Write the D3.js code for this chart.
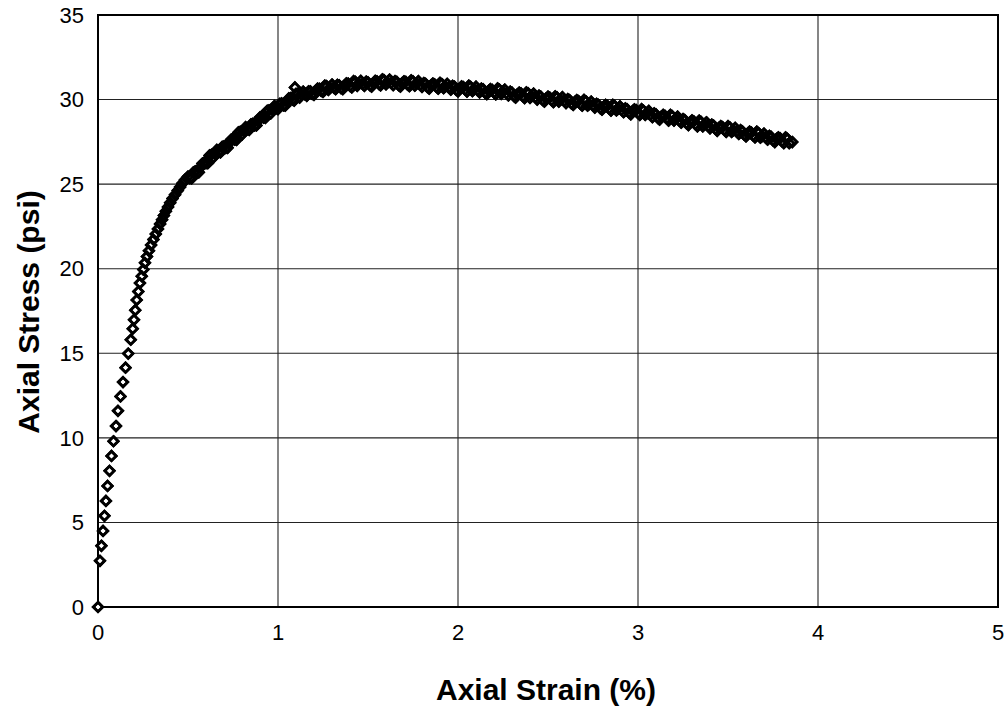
<!DOCTYPE html>
<html>
<head>
<meta charset="utf-8">
<script src="https://cdn.jsdelivr.net/npm/d3@7"></script>
<style>
  body { margin: 0; background: #fff; }
  svg { display: block; }
  .tick-label { font-family: "Liberation Sans", Arial, sans-serif; font-size: 22px; fill: #000; }
  .axis-title { font-family: "Liberation Sans", Arial, sans-serif; font-size: 30px; font-weight: bold; fill: #000; }
</style>
</head>
<body>
<svg width="1008" height="707"></svg>
<script>
// axial strain (%) readings, sparse start then the dense part of the test
const strain = [
  0, 0.011, 0.019, 0.028, 0.036, 0.044, 0.053, 0.064, 0.075, 0.086, 0.100, 0.111, 0.125, 0.139, 0.153,
  0.168, 0.182, 0.193, 0.200, 0.207, 0.215, 0.224, 0.233, 0.243, 0.252, 0.261, 0.272, 0.283, 0.295,
  0.308, 0.321, 0.333, 0.345, 0.356, 0.366, 0.377, 0.389, 0.401, 0.414, 0.428, 0.443, 0.456, 0.469, 0.483,
  0.50, 0.52, 0.54, 0.56, 0.58, 0.60, 0.62, 0.64, 0.66, 0.68, 0.70, 0.72, 0.74, 0.76, 0.78, 0.80,
  0.82, 0.84, 0.86, 0.88, 0.90, 0.92, 0.94, 0.96, 0.98, 1.00, 1.02, 1.04, 1.06, 1.08, 1.094, 1.10,
  1.12, 1.14, 1.16, 1.18, 1.20, 1.22, 1.24, 1.26, 1.28, 1.30, 1.32, 1.34, 1.36, 1.38, 1.40,
  1.42, 1.44, 1.46, 1.48, 1.50, 1.52, 1.54, 1.56, 1.58, 1.60, 1.62, 1.64, 1.66, 1.68, 1.70,
  1.72, 1.74, 1.76, 1.78, 1.80, 1.82, 1.84, 1.86, 1.88, 1.90, 1.92, 1.94, 1.96, 1.98, 2.00,
  2.02, 2.04, 2.06, 2.08, 2.10, 2.12, 2.14, 2.16, 2.18, 2.20, 2.22, 2.24, 2.26, 2.28, 2.30,
  2.32, 2.34, 2.36, 2.38, 2.40, 2.42, 2.44, 2.46, 2.48, 2.50, 2.52, 2.54, 2.56, 2.58, 2.60,
  2.62, 2.64, 2.66, 2.68, 2.70, 2.72, 2.74, 2.76, 2.78, 2.80, 2.82, 2.84, 2.86, 2.88, 2.90,
  2.92, 2.94, 2.96, 2.98, 3.00, 3.02, 3.04, 3.06, 3.08, 3.10, 3.12, 3.14, 3.16, 3.18, 3.20,
  3.22, 3.24, 3.26, 3.28, 3.30, 3.32, 3.34, 3.36, 3.38, 3.40, 3.42, 3.44, 3.46, 3.48, 3.50,
  3.52, 3.54, 3.56, 3.58, 3.60, 3.62, 3.64, 3.66, 3.68, 3.70, 3.72, 3.74, 3.76, 3.78, 3.80,
  3.82, 3.84, 3.857
];

// axial stress (psi), same order as strain
const stress = [
  0, 2.73, 3.62, 4.50, 5.39, 6.27, 7.16, 8.05, 8.93, 9.80, 10.70, 11.60, 12.45, 13.30, 14.15,
  14.98, 15.80, 16.45, 16.98, 17.55, 18.15, 18.65, 19.15, 19.56, 19.95, 20.35, 20.72, 21.06, 21.40,
  21.72, 22.05, 22.35, 22.65, 22.90, 23.15, 23.40, 23.65, 23.90, 24.15, 24.38, 24.62, 24.83, 25.05, 25.25,
  25.45, 25.34, 25.75, 25.70, 26.22, 26.24, 26.70, 26.57, 27.02, 26.87, 27.24, 27.15, 27.64, 27.63, 28.06, 27.93,
  28.37, 28.21, 28.57, 28.47, 28.95, 28.93, 29.34, 29.19, 29.62, 29.44, 29.78, 29.64, 30.07, 29.99, 30.72, 30.34,
  30.12, 30.47, 30.22, 30.48, 30.28, 30.65, 30.52, 30.83, 30.57, 30.89, 30.61, 30.84, 30.61, 30.96, 30.81,
  31.09, 30.81, 31.11, 30.81, 31.02, 30.77, 31.10, 30.93, 31.20, 30.90, 31.18, 30.85, 31.04, 30.77, 31.08,
  30.89, 31.14, 30.82, 31.09, 30.75, 30.93, 30.65, 30.95, 30.75, 30.99, 30.67, 30.93, 30.58, 30.76, 30.48,
  30.78, 30.58, 30.82, 30.50, 30.76, 30.42, 30.60, 30.32, 30.62, 30.42, 30.66, 30.34, 30.59, 30.24, 30.41,
  30.12, 30.41, 30.20, 30.43, 30.10, 30.35, 30.00, 30.17, 29.88, 30.17, 29.96, 30.19, 29.88, 30.14, 29.79,
  29.97, 29.68, 29.97, 29.75, 29.98, 29.64, 29.88, 29.53, 29.69, 29.40, 29.68, 29.47, 29.69, 29.36, 29.60,
  29.25, 29.42, 29.13, 29.42, 29.21, 29.43, 29.09, 29.33, 28.96, 29.12, 28.82, 29.10, 28.88, 29.10, 28.76,
  28.99, 28.63, 28.79, 28.49, 28.77, 28.54, 28.76, 28.42, 28.66, 28.30, 28.46, 28.15, 28.43, 28.21, 28.43,
  28.09, 28.33, 27.97, 28.12, 27.82, 28.10, 27.88, 28.10, 27.75, 27.99, 27.63, 27.79, 27.49, 27.77, 27.54,
  27.76, 27.42, 27.49
];

// readings logged between the ones above in the dense part
const strainMid = [
  0.51, 0.53, 0.55, 0.57, 0.59, 0.61, 0.63, 0.65, 0.67, 0.69, 0.71, 0.73, 0.75, 0.77, 0.79,
  0.81, 0.83, 0.85, 0.87, 0.89, 0.91, 0.93, 0.95, 0.97, 0.99, 1.01, 1.03, 1.05, 1.07, 1.09,
  1.11, 1.13, 1.15, 1.17, 1.19, 1.21, 1.23, 1.25, 1.27, 1.29, 1.31, 1.33, 1.35, 1.37, 1.39,
  1.41, 1.43, 1.45, 1.47, 1.49, 1.51, 1.53, 1.55, 1.57, 1.59, 1.61, 1.63, 1.65, 1.67, 1.69,
  1.71, 1.73, 1.75, 1.77, 1.79, 1.81, 1.83, 1.85, 1.87, 1.89, 1.91, 1.93, 1.95, 1.97, 1.99,
  2.01, 2.03, 2.05, 2.07, 2.09, 2.11, 2.13, 2.15, 2.17, 2.19, 2.21, 2.23, 2.25, 2.27, 2.29,
  2.31, 2.33, 2.35, 2.37, 2.39, 2.41, 2.43, 2.45, 2.47, 2.49, 2.51, 2.53, 2.55, 2.57, 2.59,
  2.61, 2.63, 2.65, 2.67, 2.69, 2.71, 2.73, 2.75, 2.77, 2.79, 2.81, 2.83, 2.85, 2.87, 2.89,
  2.91, 2.93, 2.95, 2.97, 2.99, 3.01, 3.03, 3.05, 3.07, 3.09, 3.11, 3.13, 3.15, 3.17, 3.19,
  3.21, 3.23, 3.25, 3.27, 3.29, 3.31, 3.33, 3.35, 3.37, 3.39, 3.41, 3.43, 3.45, 3.47, 3.49,
  3.51, 3.53, 3.55, 3.57, 3.59, 3.61, 3.63, 3.65, 3.67, 3.69, 3.71, 3.73, 3.75, 3.77, 3.79,
  3.81, 3.83
];

const stressMid = [
  25.36, 25.69, 25.68, 26.00, 26.28, 26.24, 26.73, 26.79, 26.91, 27.20, 27.15, 27.44, 27.69, 27.62, 28.09,
  28.14, 28.25, 28.53, 28.47, 28.75, 28.99, 28.91, 29.36, 29.40, 29.49, 29.75, 29.66, 29.90, 30.08, 29.94,
  30.32, 30.29, 30.31, 30.49, 30.33, 30.51, 30.64, 30.45, 30.79, 30.72, 30.71, 30.87, 30.68, 30.83, 30.94,
  30.72, 31.04, 30.95, 30.92, 31.06, 30.85, 30.98, 31.07, 30.84, 31.14, 31.03, 30.98, 31.09, 30.86, 30.97,
  31.04, 30.79, 31.07, 30.95, 30.88, 30.98, 30.74, 30.84, 30.90, 30.64, 30.92, 30.79, 30.72, 30.81, 30.57,
  30.67, 30.73, 30.47, 30.75, 30.62, 30.55, 30.65, 30.41, 30.51, 30.57, 30.31, 30.59, 30.46, 30.38, 30.47,
  30.22, 30.31, 30.36, 30.09, 30.36, 30.22, 30.14, 30.23, 29.98, 30.07, 30.12, 29.85, 30.13, 30.00, 29.93,
  30.02, 29.78, 29.87, 29.91, 29.64, 29.90, 29.75, 29.67, 29.75, 29.50, 29.58, 29.63, 29.35, 29.62, 29.47,
  29.39, 29.48, 29.23, 29.32, 29.37, 29.09, 29.35, 29.20, 29.11, 29.18, 28.92, 29.00, 29.04, 28.76, 29.02,
  28.87, 28.77, 28.85, 28.59, 28.67, 28.71, 28.42, 28.68, 28.53, 28.44, 28.52, 28.26, 28.33, 28.37, 28.09,
  28.35, 28.20, 28.11, 28.19, 27.92, 28.00, 28.04, 27.76, 28.02, 27.86, 27.77, 27.85, 27.59, 27.67, 27.71,
  27.42, 27.68
];

const xTicks = [0, 1, 2, 3, 4, 5];
const yTicks = [0, 5, 10, 15, 20, 25, 30, 35];

const svg = d3.select('svg');
const plotLeft = 98, plotRight = 998, plotTop = 15, plotBottom = 607;

const x = d3.scaleLinear().domain([0, 5]).range([plotLeft, plotRight]);
const y = d3.scaleLinear().domain([0, 35]).range([plotBottom, plotTop]);

// сетка
svg.append('g').selectAll('line')
  .data(xTicks.slice(1, -1))
  .enter().append('line')
  .attr('x1', d => x(d)).attr('x2', d => x(d))
  .attr('y1', plotTop).attr('y2', plotBottom)
  .attr('stroke', '#222').attr('stroke-width', 1.1);

svg.append('g').selectAll('line')
  .data(yTicks.slice(1, -1))
  .enter().append('line')
  .attr('x1', plotLeft).attr('x2', plotRight)
  .attr('y1', d => y(d)).attr('y2', d => y(d))
  .attr('stroke', '#222').attr('stroke-width', 1.1);

// рамка
svg.append('rect')
  .attr('x', plotLeft).attr('y', plotTop)
  .attr('width', plotRight - plotLeft).attr('height', plotBottom - plotTop)
  .attr('fill', 'none').attr('stroke', '#000').attr('stroke-width', 2);

// подписи осей
svg.append('g').selectAll('text')
  .data(yTicks)
  .enter().append('text')
  .attr('class', 'tick-label')
  .attr('x', plotLeft - 14)
  .attr('y', d => y(d))
  .attr('dy', '0.35em')
  .attr('text-anchor', 'end')
  .text(d => d);

svg.append('g').selectAll('text')
  .data(xTicks)
  .enter().append('text')
  .attr('class', 'tick-label')
  .attr('x', d => x(d))
  .attr('y', plotBottom + 33)
  .attr('text-anchor', 'middle')
  .text(d => d);

svg.append('text')
  .attr('class', 'axis-title')
  .attr('x', 546)
  .attr('y', 700)
  .attr('text-anchor', 'middle')
  .text('Axial Strain (%)');

svg.append('text')
  .attr('class', 'axis-title')
  .attr('transform', `translate(39, 312) rotate(-90)`)
  .attr('text-anchor', 'middle')
  .text('Axial Stress (psi)');

// все точки в порядке роста деформации
const points = strain.map((s, i) => ({ s: s, p: stress[i] }))
  .concat(strainMid.map((s, i) => ({ s: s, p: stressMid[i] })));
points.sort((a, b) => a.s - b.s);

// точки - ромбы: сначала белая заливка с контуром, затем контуры поверх
const r = 4.7;
const diamond = `M0,${-r}L${r},0L0,${r}L${-r},0Z`;
svg.append('g').selectAll('path')
  .data(points)
  .enter().append('path')
  .attr('d', diamond)
  .attr('transform', d => `translate(${x(d.s)},${y(d.p)})`)
  .attr('fill', '#fff')
  .attr('stroke', '#000')
  .attr('stroke-width', 2.7);

svg.append('g').selectAll('path')
  .data(points)
  .enter().append('path')
  .attr('d', diamond)
  .attr('transform', d => `translate(${x(d.s)},${y(d.p)})`)
  .attr('fill', 'none')
  .attr('stroke', '#000')
  .attr('stroke-width', 2.7);
</script>
</body>
</html>
